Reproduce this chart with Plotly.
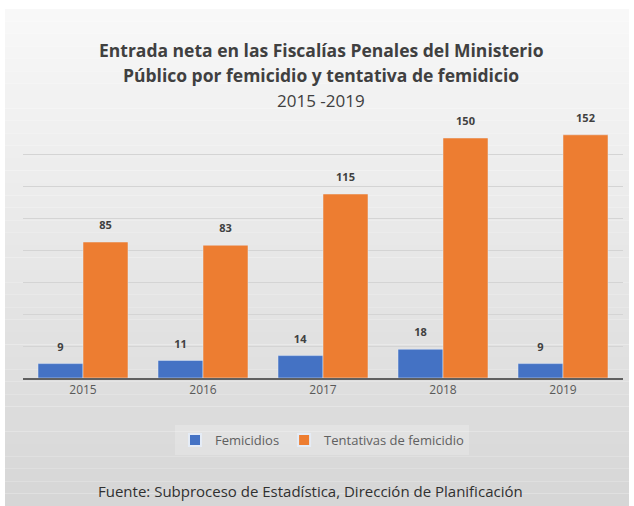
import plotly.graph_objects as go

years = ["2015", "2016", "2017", "2018", "2019"]
femicidios = [9, 11, 14, 18, 9]
tentativas = [85, 83, 115, 150, 152]

title_lines = ["Entrada neta en las Fiscalías Penales del Ministerio",
               "Público por femicidio y tentativa de femidicio",
               "2015 -2019"]
footer = "Fuente: Subproceso de Estadística, Dirección de Planificación"

W, H = 634, 506
ml, mr, mt, mb = 23, 11, 122, 128
pw, ph = W - ml - mr, H - mt - mb

def px_x(p):
    return (p - ml) / pw

def px_y(p):
    return (H - mb - p) / ph

label_tpl = "<span style='font-size:11px'><b>%{y}</b></span><br> "

fig = go.Figure()
fig.add_trace(go.Bar(
    name="Femicidios", x=years, y=femicidios, marker_color="#4472C4",
    texttemplate=label_tpl, textposition="outside",
    textfont=dict(size=6, color="#404040", family="Open Sans"),
    cliponaxis=False,
))
fig.add_trace(go.Bar(
    name="Tentativas de femicidio", x=years, y=tentativas, marker_color="#ED7D31",
    texttemplate=label_tpl, textposition="outside",
    textfont=dict(size=6, color="#404040", family="Open Sans"),
    cliponaxis=False,
))

# gradient background
shapes = []
n = 40
top, bot = 9, H
c_top, c_bot = (248, 248, 248), (214, 214, 214)
for i in range(n):
    y0 = top + (bot - top) * i / n
    y1 = top + (bot - top) * (i + 1) / n
    t = (i + 0.5) / n
    c = tuple(int(round(c_top[k] + (c_bot[k] - c_top[k]) * t)) for k in range(3))
    shapes.append(dict(type="rect", xref="paper", yref="paper",
                       x0=px_x(5), x1=px_x(629), y0=px_y(y1), y1=px_y(y0),
                       fillcolor="rgb(%d,%d,%d)" % c, line=dict(width=0),
                       layer="below"))

tfont = dict(size=17.5, color="#404040", family="Open Sans")
annotations = [
    dict(text="<b>" + title_lines[0] + "</b>", x=px_x(321), y=px_y(50), xref="paper", yref="paper",
         showarrow=False, font=tfont, xanchor="center", yanchor="middle"),
    dict(text="<b>" + title_lines[1] + "</b>", x=px_x(321), y=px_y(75), xref="paper", yref="paper",
         showarrow=False, font=tfont, xanchor="center", yanchor="middle"),
    dict(text=title_lines[2], x=px_x(321), y=px_y(100), xref="paper", yref="paper",
         showarrow=False, font=dict(size=17, color="#404040", family="Open Sans"), xanchor="center", yanchor="middle"),
    dict(text=footer, x=px_x(310), y=px_y(491), xref="paper", yref="paper",
         showarrow=False, font=dict(size=15, color="#303030", family="Open Sans"), xanchor="center", yanchor="middle"),
]

fig.update_layout(
    width=W, height=H,
    margin=dict(l=ml, r=mr, t=mt, b=mb, pad=0),
    paper_bgcolor="white", plot_bgcolor="rgba(0,0,0,0)",
    barmode="group", bargap=0.25, bargroupgap=0,
    showlegend=True,
    legend=dict(orientation="h", x=px_x(322), xanchor="center", y=px_y(440), yanchor="middle",
                font=dict(size=13, color="#606060", family="Open Sans"),
                bgcolor="rgba(255,255,255,0.2)", itemwidth=30,
                itemsizing="constant"),
    shapes=shapes,
    annotations=annotations,
    font=dict(family="Open Sans"),
)
fig.update_xaxes(showgrid=False, showline=True, linecolor="#606060", linewidth=2,
                 ticks="", tickfont=dict(size=12, color="#595959"))
fig.update_yaxes(range=[0, 160], dtick=20, showgrid=True, gridcolor="#d4d4d4", gridwidth=1,
                 showticklabels=False, zeroline=False, showline=False)

fig.write_html("out.html")
